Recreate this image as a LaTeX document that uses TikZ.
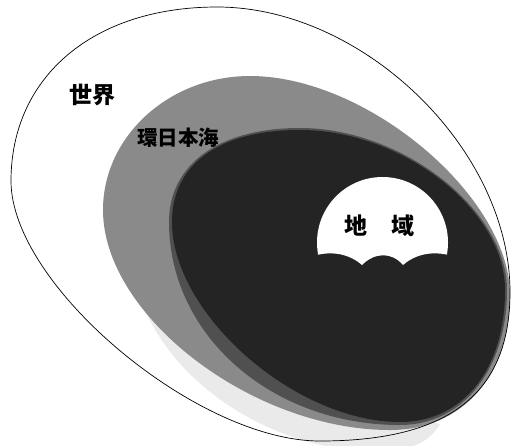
\documentclass[tikz,border=0pt]{standalone}
\usepackage{fontspec}
\newfontfamily\cjk{Noto Sans CJK JP}
\definecolor{ringgray}{RGB}{138,138,138}
\definecolor{midgray}{RGB}{80,80,80}
\definecolor{coregray}{RGB}{36,36,36}
\definecolor{shadowgray}{RGB}{234,234,234}
\begin{document}
\begin{tikzpicture}[x=1pt,y=-1pt,
  lbl/.style={inner sep=0pt, text=black},
  rim/.style={line width=0.7pt, draw=black}]
\useasboundingbox (0,0) rectangle (511,445);
\fill[white] (0,0) rectangle (511,445);
% light shadow below the ring
\fill[shadowgray] (142,302) .. controls (165,365) and (235,428) .. (330,447)
  -- (410,447) .. controls (425,443) and (435,433) .. (440,424)
  -- (300,380) -- cycle;
% ring (環日本海)
\fill[ringgray] (250,76) .. controls (367,76) and (510,196.5) .. (510,295)
  .. controls (510,376) and (462,430) .. (390,430)
  .. controls (252.2,430) and (103,315.6) .. (103,210)
  .. controls (103,136.3) and (169.2,76) .. cycle;
% soft transition at lower left
\fill[midgray] (300,128) .. controls (402.5,128) and (507,210) .. (507,290)
  .. controls (507,369.2) and (463,425) .. (400,425)
  .. controls (271.2,425) and (169,335) .. (169,222)
  .. controls (169,164) and (219.4,128) .. cycle;
% core
\fill[coregray] (300,130) .. controls (402.5,130) and (505,210) .. (505,290)
  .. controls (505,369.2) and (463,422) .. (400,422)
  .. controls (295.1,422) and (172,314) .. (172,222)
  .. controls (172,164) and (219.4,130) .. cycle;
% world outline
\draw[rim] (217,7) .. controls (363.5,7) and (510,149.5) .. (510,292)
  .. controls (510,393.3) and (449.2,441) .. (320,441)
  .. controls (196.4,441) and (11,285) .. (11,181)
  .. controls (11,76.6) and (93.4,7) .. cycle;
% white region with scalloped bottom
\coordinate (cl) at (382.5,242.5);
\begin{scope}
  \clip (cl) circle [radius=65.5];
  \fill[white] (300,150) -- (300,262)
    .. controls (320,250) and (345,250) .. (362,265)
    .. controls (375,252) and (392,252) .. (403,265)
    .. controls (420,250) and (445,250) .. (466,262)
    -- (466,150) -- cycle;
\end{scope}
\node[lbl, font=\cjk\bfseries\fontsize{23}{23}\selectfont] (world) at (92,95) {世界};
\node[lbl, font=\cjk\bfseries\fontsize{20.5}{20.5}\selectfont] (kan) at (178,138) {環日本海};
\node[lbl, font=\cjk\bfseries\fontsize{23}{23}\selectfont] (chi) at (356,226) {地};
\node[lbl, font=\cjk\bfseries\fontsize{23}{23}\selectfont] (iki) at (403,226) {域};
\end{tikzpicture}
\end{document}
